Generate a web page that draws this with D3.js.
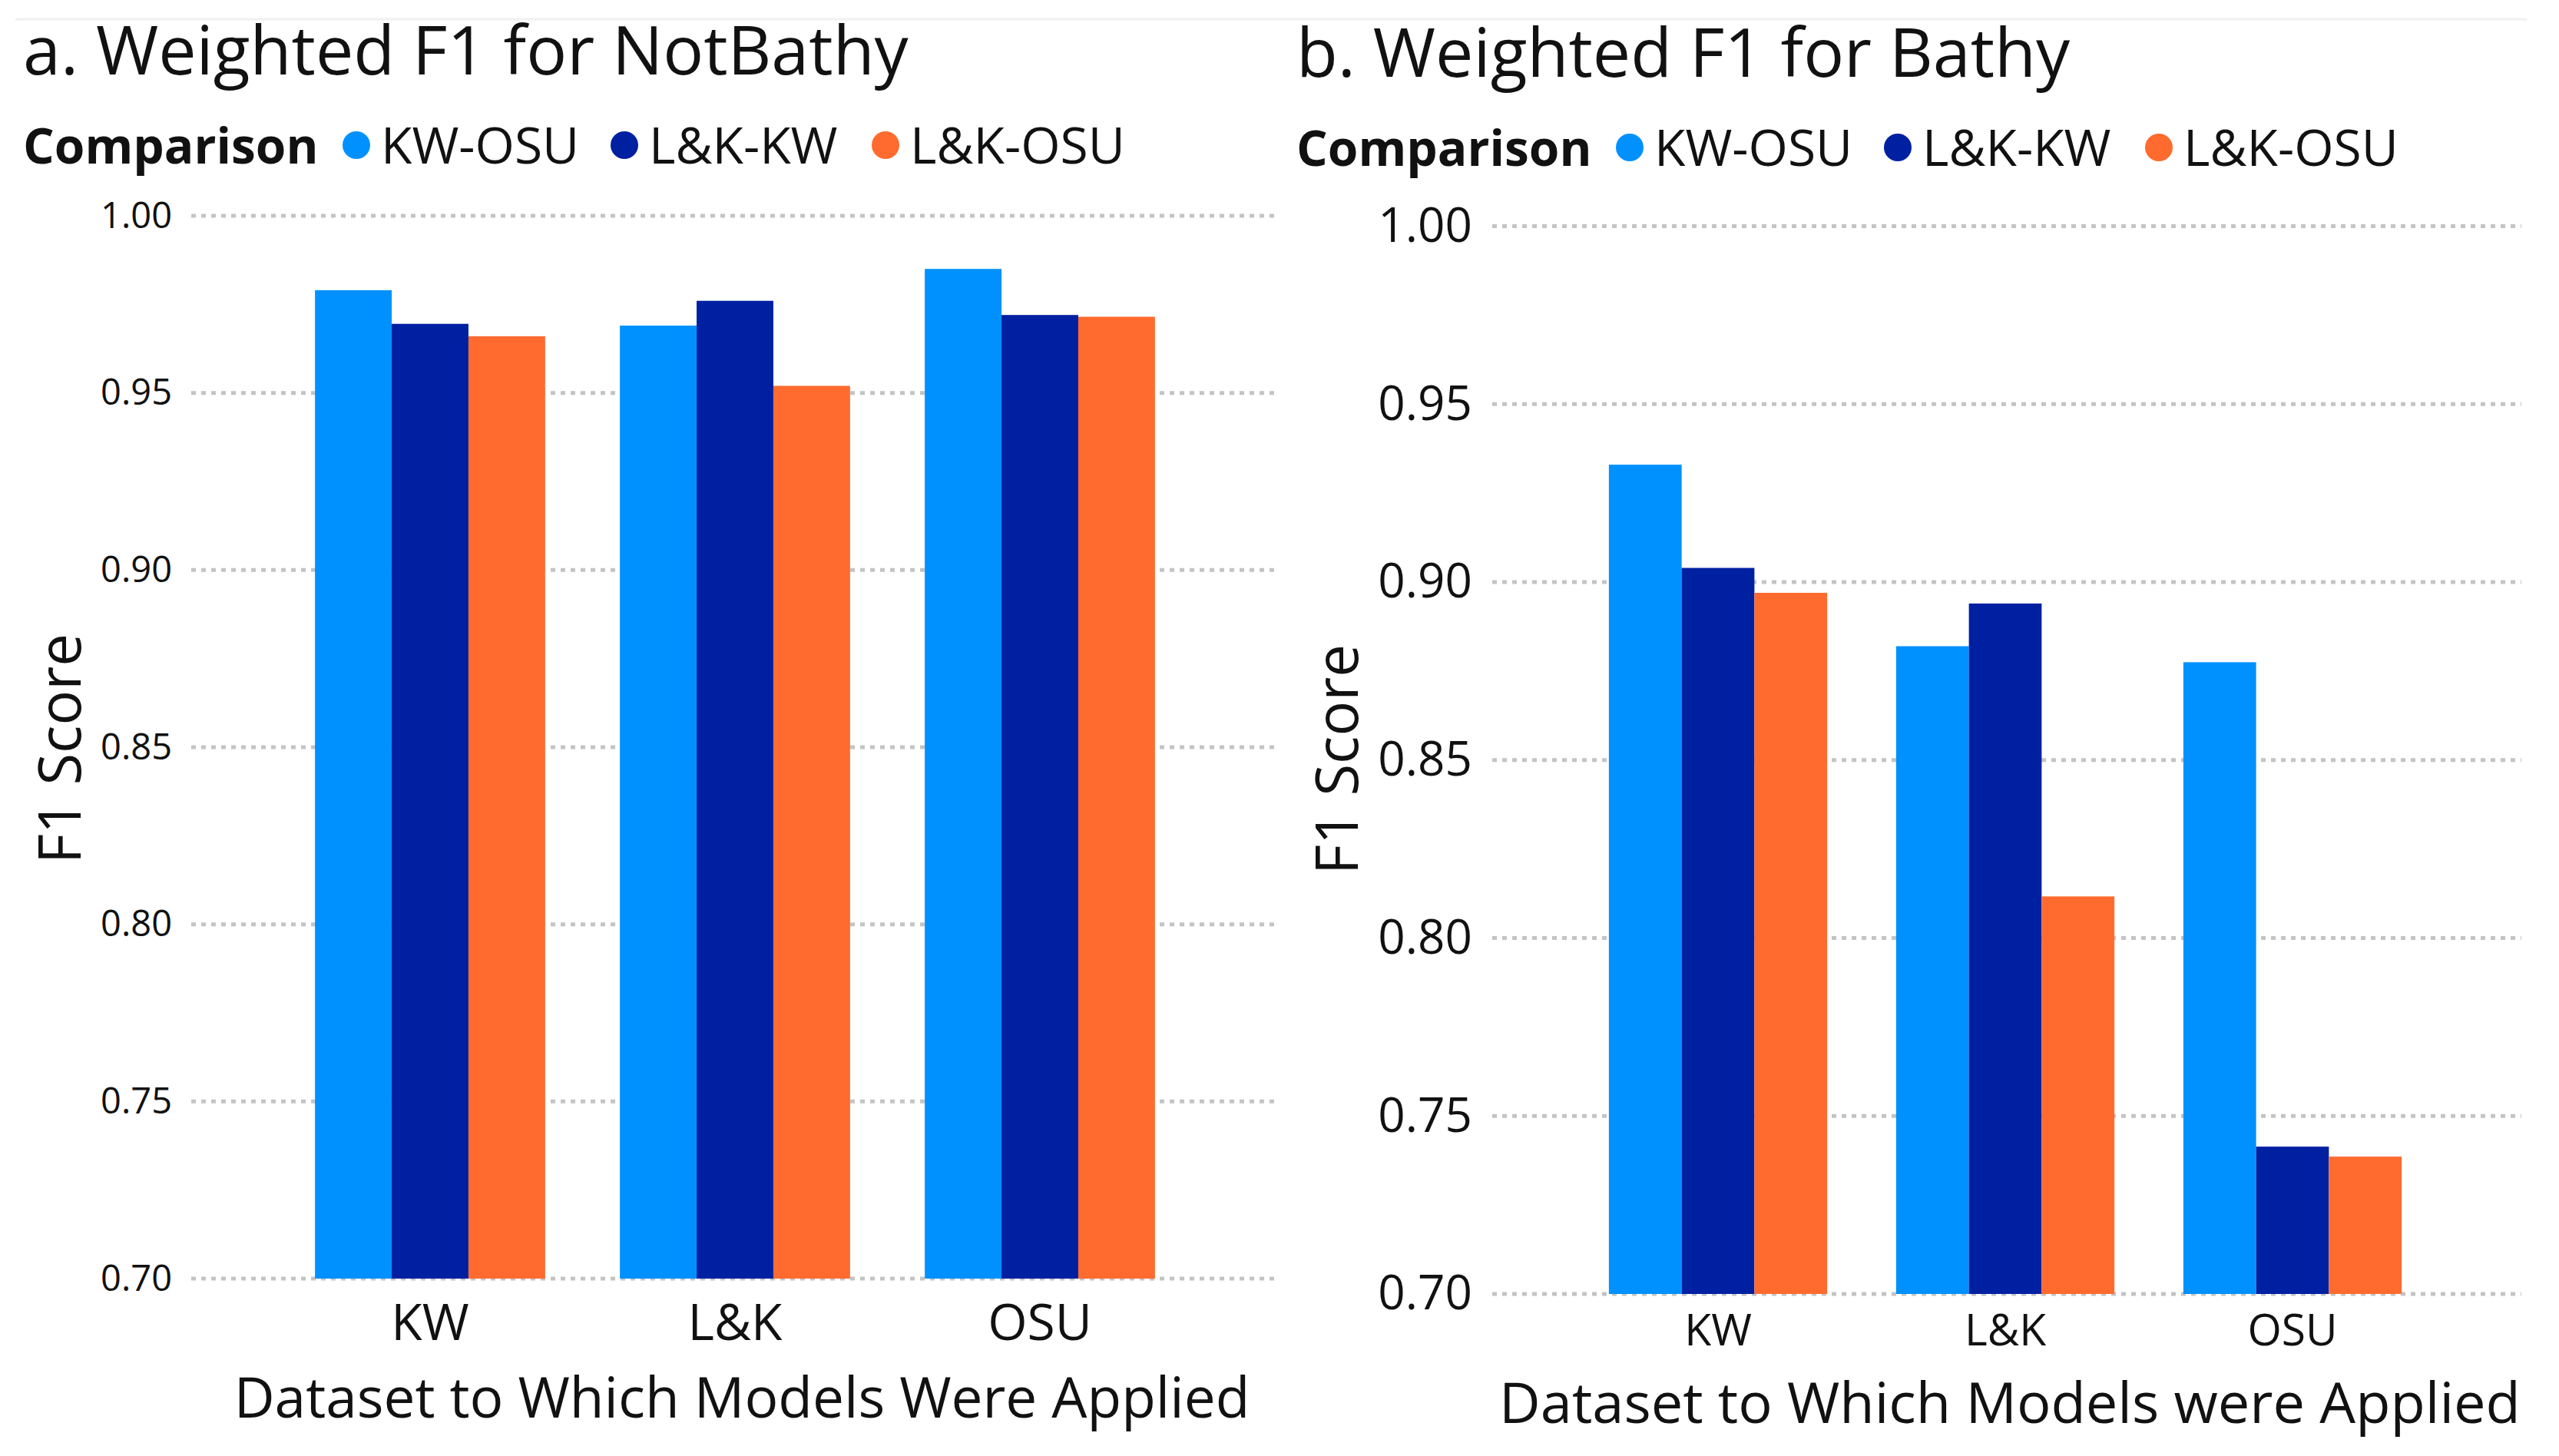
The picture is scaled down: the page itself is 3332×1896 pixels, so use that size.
<!DOCTYPE html>
<html>
<head>
<meta charset="utf-8">
<script src="https://cdn.jsdelivr.net/npm/d3@7"></script>
<style>
  body { margin: 0; background: #fff; }
  text { font-family: "Open Sans", "Noto Sans", sans-serif; fill: #111; }
</style>
</head>
<body>
<div id="chart"></div>
<script>
// data
var categories = ["KW", "L&K", "OSU"];
var comparisons = ["KW-OSU", "L&K-KW", "L&K-OSU"];
var colors = ["#0091ff", "#0020a2", "#ff6b2e"];
var yTicks = [0.70, 0.75, 0.80, 0.85, 0.90, 0.95, 1.00];

// Weighted F1 for NotBathy, one array per comparison (KW, L&K, OSU)
var notBathyKwOsu = [0.979, 0.969, 0.985];
var notBathyLkKw = [0.9695, 0.976, 0.972];
var notBathyLkOsu = [0.966, 0.952, 0.9715];

// Weighted F1 for Bathy
var bathyKwOsu = [0.933, 0.882, 0.8775];
var bathyLkKw = [0.904, 0.894, 0.7414];
var bathyLkOsu = [0.897, 0.8117, 0.7386];

var svgWidth = 3332;
var svgHeight = 1896;

var svg = d3.select("#chart")
  .append("svg")
  .attr("width", svgWidth)
  .attr("height", svgHeight);

// faint separator line along the top
svg.append("line")
  .attr("x1", 20).attr("x2", 3290)
  .attr("y1", 25).attr("y2", 25)
  .attr("stroke", "#f0f0f0")
  .attr("stroke-width", 3);

function drawPanel(p) {
  var g = svg.append("g");

  var rows = categories.map(function(c, i) {
    return { cat: c, vals: p.series.map(function(s) { return s[i]; }) };
  });

  var y = d3.scaleLinear().domain([0.7, 1.0]).range([p.yBottom, p.yTop]);

  var x0 = d3.scaleBand()
    .domain(categories)
    .range(p.xRange)
    .paddingInner(p.pad)
    .paddingOuter(p.pad / 2);

  var x1 = d3.scaleBand()
    .domain(comparisons)
    .range([0, x0.bandwidth()]);

  // dotted gridlines
  g.append("g").selectAll("line")
    .data(yTicks)
    .enter().append("line")
    .attr("x1", p.gridX[0])
    .attr("x2", p.gridX[1])
    .attr("y1", d => y(d))
    .attr("y2", d => y(d))
    .attr("stroke", "#c4c4c4")
    .attr("stroke-width", 5)
    .attr("stroke-dasharray", "6 7");

  // y axis tick labels
  var yAxis = d3.axisLeft(y).tickValues(yTicks).tickFormat(d3.format(".2f")).tickSize(0).tickPadding(0);
  g.append("g")
    .attr("transform", `translate(${p.tickX}, 0)`)
    .call(yAxis)
    .call(a => a.select(".domain").remove())
    .selectAll("text")
    .style("font-family", "'Open Sans', sans-serif")
    .style("font-size", p.tickSize + "px")
    .attr("fill", "#252423");

  // bars
  var groups = g.append("g").selectAll("g")
    .data(rows)
    .enter().append("g")
    .attr("transform", d => `translate(${x0(d.cat)}, 0)`);

  groups.selectAll("rect")
    .data(d => d.vals.map((v, i) => ({ key: comparisons[i], value: v, i: i })))
    .enter().append("rect")
    .attr("x", d => x1(d.key))
    .attr("width", x1.bandwidth())
    .attr("y", d => y(d.value))
    .attr("height", d => y(0.7) - y(d.value))
    .attr("fill", d => colors[d.i]);

  // category labels
  var xAxis = d3.axisBottom(x0).tickSize(0).tickPadding(0);
  g.append("g")
    .attr("transform", `translate(0, ${p.catY})`)
    .call(xAxis)
    .call(a => a.select(".domain").remove())
    .selectAll("text")
    .attr("dy", 0)
    .style("font-family", "'Open Sans', sans-serif")
    .style("font-size", p.catSize + "px")
    .attr("fill", "#252423");

  // axis titles
  g.append("text")
    .attr("x", p.xTitle[0])
    .attr("y", p.xTitle[1])
    .attr("text-anchor", "middle")
    .style("font-size", p.xTitleSize + "px")
    .text(p.xLabel);

  g.append("text")
    .attr("transform", `translate(${p.yTitle[0]}, ${p.yTitle[1]}) rotate(-90)`)
    .attr("text-anchor", "middle")
    .style("font-size", "76px")
    .text("F1 Score");

  // chart title
  g.append("text")
    .attr("x", p.title[0])
    .attr("y", p.title[1])
    .style("font-size", "88px")
    .text(p.titleText);

  // legend
  g.append("text")
    .attr("x", p.title[0])
    .attr("y", p.legendY)
    .style("font-size", "64px")
    .style("font-weight", "bold")
    .text("Comparison");

  var items = g.append("g").selectAll("g")
    .data(comparisons)
    .enter().append("g");

  items.append("circle")
    .attr("cx", (d, i) => p.legendX[i])
    .attr("cy", p.legendY - 24)
    .attr("r", 18)
    .attr("fill", (d, i) => colors[i]);

  items.append("text")
    .attr("x", (d, i) => p.legendX[i] + 32)
    .attr("y", p.legendY)
    .style("font-size", "66px")
    .text(d => d);
}

drawPanel({
  series: [notBathyKwOsu, notBathyLkKw, notBathyLkOsu],
  titleText: "a. Weighted F1 for NotBathy",
  xLabel: "Dataset to Which Models Were Applied",
  yTop: 281, yBottom: 1665,
  xRange: [361.5, 1552.5], pad: 0.245,
  gridX: [249, 1666],
  tickX: 224, tickSize: 47,
  catY: 1745, catSize: 66,
  xTitle: [966, 1846], xTitleSize: 73,
  yTitle: [105, 975],
  title: [30, 97],
  legendY: 213,
  legendX: [464, 813, 1153]
});

drawPanel({
  series: [bathyKwOsu, bathyLkKw, bathyLkOsu],
  titleText: "b. Weighted F1 for Bathy",
  xLabel: "Dataset to Which Models were Applied",
  yTop: 294.6, yBottom: 1685,
  xRange: [2050, 3172], pad: 0.24,
  gridX: [1943, 3283],
  tickX: 1917, tickSize: 62,
  catY: 1752, catSize: 57,
  xTitle: [2617, 1853], xTitleSize: 74,
  yTitle: [1768, 989],
  title: [1688, 100],
  legendY: 216,
  legendX: [2122, 2471, 2811]
});
</script>
</body>
</html>
